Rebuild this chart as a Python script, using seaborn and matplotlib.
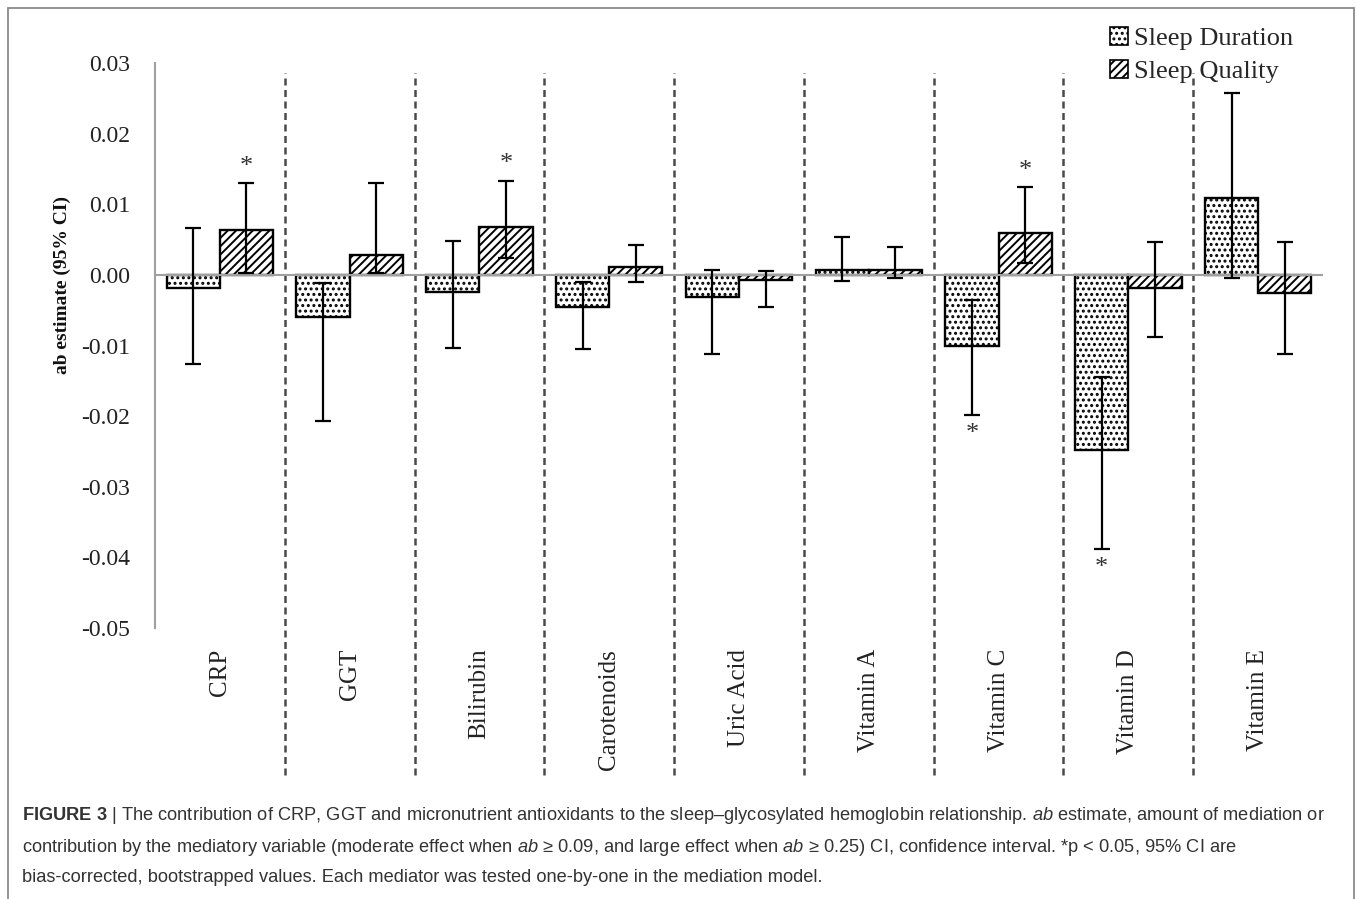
import matplotlib
matplotlib.use("Agg")
import matplotlib.pyplot as plt
import seaborn as sns
import pandas as pd
import numpy as np
from matplotlib.patches import Patch
from matplotlib.lines import Line2D
from matplotlib.container import BarContainer

# ---------------- data ----------------
categories = ["CRP", "GGT", "Bilirubin", "Carotenoids", "Uric Acid",
              "Vitamin A", "Vitamin C", "Vitamin D", "Vitamin E"]
series = ["Sleep Duration", "Sleep Quality"]

duration = [-0.0019, -0.0060, -0.0024, -0.0045, -0.0031, 0.0007, -0.0100, -0.0248, 0.0109]
duration_lo = [-0.0126, -0.0207, -0.0103, -0.0105, -0.0112, -0.0009, -0.0198, -0.0388, -0.0004]
duration_hi = [0.0066, -0.0011, 0.0048, -0.0010, 0.0007, 0.0054, -0.0035, -0.0144, 0.0257]
duration_sig = [False, False, False, False, False, False, True, True, False]

quality = [0.0063, 0.0028, 0.0068, 0.0011, -0.0007, 0.0007, 0.0060, -0.0018, -0.0025]
quality_lo = [0.0003, 0.0003, 0.0024, -0.0010, -0.0045, -0.0004, 0.0017, -0.0088, -0.0112]
quality_hi = [0.0130, 0.0130, 0.0133, 0.0042, 0.0005, 0.0040, 0.0124, 0.0047, 0.0047]
quality_sig = [True, False, True, False, False, False, True, False, False]

yticks = [0.03, 0.02, 0.01, 0.00, -0.01, -0.02, -0.03, -0.04, -0.05]
ytick_labels = ["0.03", "0.02", "0.01", "0.00", "-0.01", "-0.02", "-0.03", "-0.04", "-0.05"]

ylabel = "ab estimate (95% CI)"

caption_lines = [
    r"$\mathbf{FIGURE\ 3}$ | The contribution of CRP, GGT and micronutrient antioxidants to the sleep–glycosylated hemoglobin relationship. $\mathit{ab}$ estimate, amount of mediation or",
    r"contribution by the mediatory variable (moderate effect when $\mathit{ab}$ ≥ 0.09, and large effect when $\mathit{ab}$ ≥ 0.25) CI, confidence interval. *p < 0.05, 95% CI are",
    r"bias-corrected, bootstrapped values. Each mediator was tested one-by-one in the mediation model.",
]

# ---------------- style ----------------
sns.set_style("white")
plt.rcParams["font.family"] = ["Liberation Serif", "DejaVu Serif"]
plt.rcParams["hatch.linewidth"] = 1.4
plt.rcParams["hatch.color"] = "black"
plt.rcParams["mathtext.fontset"] = "custom"
plt.rcParams["mathtext.rm"] = "Liberation Sans"
plt.rcParams["mathtext.it"] = "Liberation Sans:italic"
plt.rcParams["mathtext.bf"] = "Liberation Sans:bold"

W, H = 1357, 899
fig = plt.figure(figsize=(W / 100, H / 100), dpi=100)
fig.patch.set_facecolor("white")

ax_left, ax_right = 155 / W, 1323 / W
ax_top, ax_bottom = 1 - 63 / H, 1 - 628 / H
ax = fig.add_axes([ax_left, ax_bottom, ax_right - ax_left, ax_top - ax_bottom])

df = pd.DataFrame({
    "category": categories * 2,
    "series": [series[0]] * len(categories) + [series[1]] * len(categories),
    "value": duration + quality,
})

sns.barplot(data=df, x="category", y="value", hue="series", order=categories,
            hue_order=series, palette=["white", "white"], width=0.82,
            edgecolor="black", linewidth=1.7, errorbar=None, legend=False,
            ax=ax, saturation=1)

hatches = ["...", "////"]
los = [duration_lo, quality_lo]
his = [duration_hi, quality_hi]
vals = [duration, quality]
sigs = [duration_sig, quality_sig]
bar_conts = [c for c in ax.containers if isinstance(c, BarContainer)]
for ci, cont in enumerate(bar_conts):
    xs = []
    for p in cont.patches:
        p.set_hatch(hatches[ci])
        p.set_facecolor("white")
        p.set_edgecolor("black")
        xs.append(p.get_x() + p.get_width() / 2)
    xs = np.array(xs)
    v = np.array(vals[ci])
    lo = np.array(los[ci])
    hi = np.array(his[ci])
    ax.errorbar(xs, v, yerr=[v - lo, hi - v], fmt="none", ecolor="black",
                elinewidth=1.6, capsize=5.5, capthick=1.6, zorder=5)
    for j in range(len(xs)):
        if sigs[ci][j]:
            if v[j] > 0:
                ax.annotate("*", (xs[j], hi[j]), xytext=(0, 4), textcoords="offset points",
                            ha="center", va="bottom", fontsize=19, color="#333333")
            else:
                ax.annotate("*", (xs[j], lo[j]), xytext=(0, -22), textcoords="offset points",
                            ha="center", va="bottom", fontsize=19, color="#333333")

ax.set_ylim(-0.05, 0.03)
ax.set_xlim(-0.5, len(categories) - 0.5)
ax.set_yticks(yticks)
ax.set_yticklabels(ytick_labels, fontsize=17, color="#222222")
ax.set_xticks(range(len(categories)))
ax.set_xticklabels(categories, rotation=90, fontsize=18, color="#222222")
ax.tick_params(axis="x", length=0, pad=15)
ax.tick_params(axis="y", length=0, pad=18)
ax.set_xlabel("")
ax.set_ylabel("")

for s in ["top", "right", "bottom"]:
    ax.spines[s].set_visible(False)
ax.spines["left"].set_color("#a0a0a0")
ax.spines["left"].set_linewidth(1.5)

ax.axhline(0, color="#a0a0a0", linewidth=1.5, zorder=1)

# dashed separators between groups
for i in range(len(categories) - 1):
    ax.axvline(i + 0.5, ymin=-0.26, ymax=0.982, color="#4a4a4a", linewidth=1.8,
               linestyle=(0, (2.8, 1.8)), clip_on=False, zorder=0)

fig.text(62 / W, 1 - 285 / H, ylabel, rotation=90, ha="center", va="center",
         fontsize=14, fontweight="bold", color="#111111")

handles = [Patch(facecolor="white", edgecolor="black", hatch=hatches[0], linewidth=1.2),
           Patch(facecolor="white", edgecolor="black", hatch=hatches[1], linewidth=1.2)]
fig.legend(handles, series, loc="upper left", bbox_to_anchor=(1110 / W, 1 - 27 / H),
           frameon=False, fontsize=19, handlelength=0.7, handleheight=0.7,
           handletextpad=0.2, labelspacing=0.35, borderaxespad=0, borderpad=0)

# caption
for k, line in enumerate(caption_lines):
    fig.text(22 / W, 1 - (816 + 31 * k) / H, line, ha="left", va="center",
             fontsize=13.15, color="#333333",
             family=["Liberation Sans", "DejaVu Sans"])

# outer frame
frame_kw = dict(color="#8a8a8a", linewidth=1.3, transform=fig.transFigure)
fig.add_artist(Line2D([8 / W, 8 / W], [0, 1 - 8 / H], **frame_kw))
fig.add_artist(Line2D([8 / W, 1354 / W], [1 - 8 / H, 1 - 8 / H], **frame_kw))
fig.add_artist(Line2D([1354 / W, 1354 / W], [0, 1 - 8 / H], **frame_kw))

fig.savefig("out.png", dpi=100, facecolor="white")
